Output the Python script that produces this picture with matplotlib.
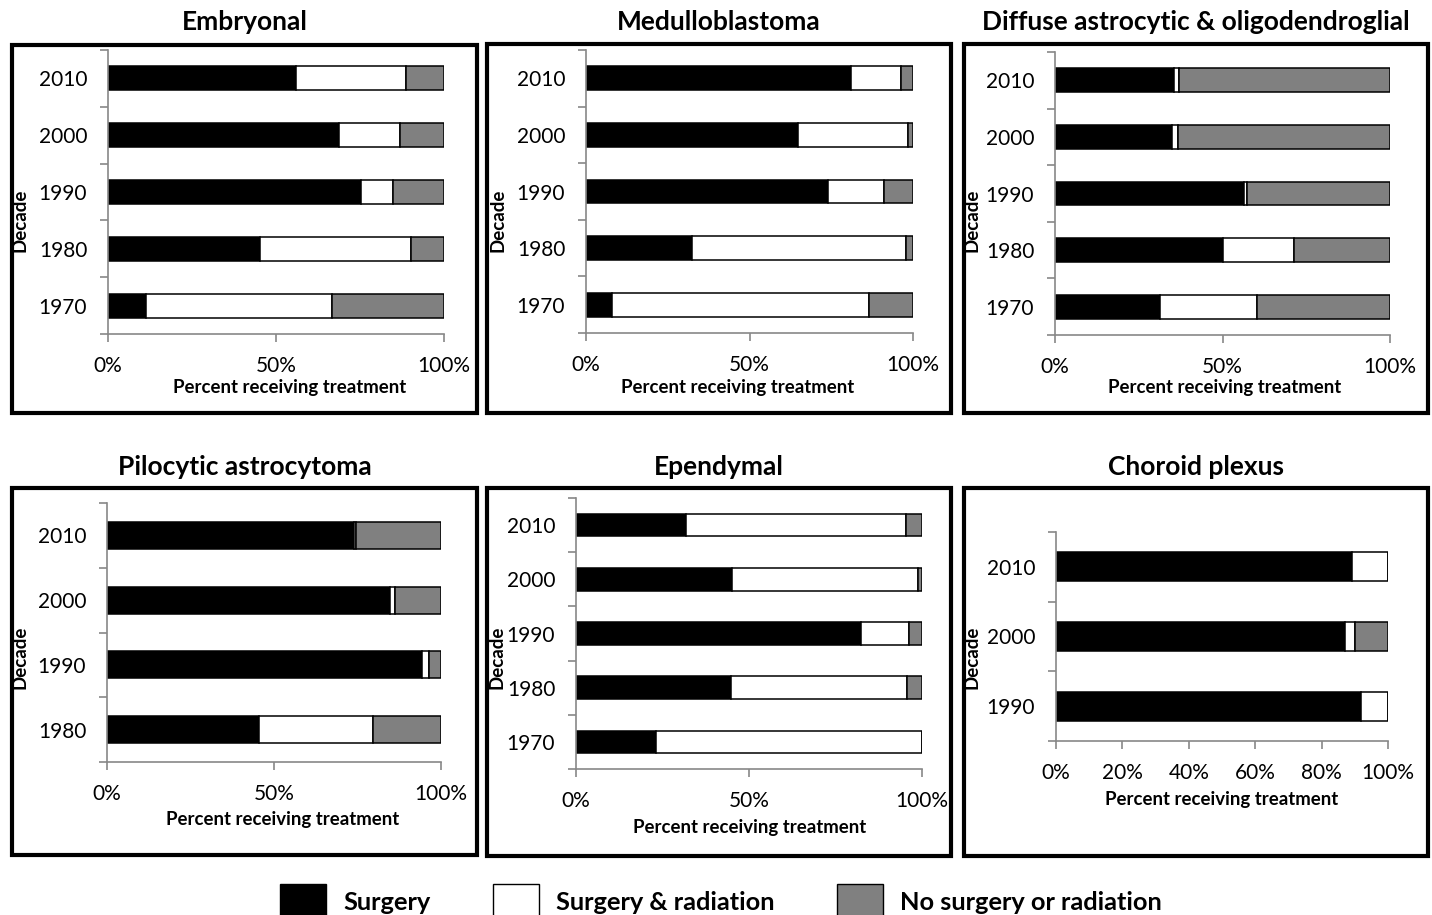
import matplotlib
matplotlib.use("Agg")
import matplotlib.pyplot as plt
from matplotlib.patches import Rectangle, Patch
import numpy as np

plt.rcParams['font.family'] = ['Lato', 'DejaVu Sans']

W, H = 1432, 915

SERIES = ['Surgery', 'Surgery & radiation', 'No surgery or radiation']
COLORS = ['#000000', '#ffffff', '#808080']

# values, percent, bottom row first
emb_decades = ['1970', '1980', '1990', '2000', '2010']
emb_surgery = [11.3, 45.2, 75.2, 68.8, 56.0]
emb_surg_rad = [55.5, 45.0, 9.6, 18.0, 32.6]
emb_none = [33.2, 9.8, 15.2, 13.2, 11.4]

med_decades = ['1970', '1980', '1990', '2000', '2010']
med_surgery = [7.9, 32.5, 73.9, 64.8, 80.9]
med_surg_rad = [78.5, 65.5, 17.1, 33.7, 15.5]
med_none = [13.6, 2.0, 9.0, 1.5, 3.6]

dif_decades = ['1970', '1980', '1990', '2000', '2010']
dif_surgery = [31.4, 50.1, 56.5, 34.8, 35.6]
dif_surg_rad = [28.9, 21.1, 0.8, 2.0, 1.4]
dif_none = [39.7, 28.8, 42.7, 63.2, 63.0]

pil_decades = ['1980', '1990', '2000', '2010']
pil_surgery = [45.6, 94.2, 84.8, 73.9]
pil_surg_rad = [34.0, 2.1, 1.5, 0.6]
pil_none = [20.4, 3.7, 13.7, 25.5]

epe_decades = ['1970', '1980', '1990', '2000', '2010']
epe_surgery = [23.2, 44.9, 82.4, 45.1, 31.8]
epe_surg_rad = [76.8, 50.8, 13.9, 53.6, 63.6]
epe_none = [0.0, 4.3, 3.7, 1.3, 4.6]

cho_decades = ['1990', '2000', '2010']
cho_surgery = [92.0, 87.0, 89.3]
cho_surg_rad = [8.0, 3.1, 10.7]
cho_none = [0.0, 9.9, 0.0]

panels = [
    ('Embryonal', emb_decades, [emb_surgery, emb_surg_rad, emb_none], 50),
    ('Medulloblastoma', med_decades, [med_surgery, med_surg_rad, med_none], 50),
    ('Diffuse astrocytic & oligodendroglial', dif_decades, [dif_surgery, dif_surg_rad, dif_none], 50),
    ('Pilocytic astrocytoma', pil_decades, [pil_surgery, pil_surg_rad, pil_none], 50),
    ('Ependymal', epe_decades, [epe_surgery, epe_surg_rad, epe_none], 50),
    ('Choroid plexus', cho_decades, [cho_surgery, cho_surg_rad, cho_none], 20),
]

# layout in pixels: axes (left, top, right, bottom), box (left, top, right, bottom)
axes_px = [(108, 50, 444, 334), (586, 50, 913, 333), (1055, 52, 1390, 335),
           (107, 503, 441, 762), (576, 498, 922, 769), (1056, 532, 1388, 741)]
box_px = [(12, 45, 477, 413), (487, 44, 951, 413), (964, 44, 1428, 413),
          (12, 488, 477, 855), (487, 488, 951, 856), (964, 488, 1428, 856)]
xlabel_px = [(290, 387), (738, 387), (1225, 387), (283, 820), (750, 828), (1222, 799)]
ylabel_px = [(20, 220), (498, 220), (972, 220), (20, 657), (497, 657), (972, 657)]


def frac(l, t, r, b):
    return [l / W, 1 - b / H, (r - l) / W, (b - t) / H]


fig = plt.figure(figsize=(W / 100, H / 100), dpi=100)

for i, (title, decades, vals, step) in enumerate(panels):
    l, t, r, b = axes_px[i]
    ax = fig.add_axes(frac(l, t, r, b))
    y = np.arange(len(decades))
    left = np.zeros(len(decades))
    for v, c in zip(vals, COLORS):
        v = np.array(v)
        ax.barh(y, v, left=left, height=0.42, color=c, edgecolor='black', linewidth=1.1)
        left += v

    ax.set_xlim(0, 100)
    ax.set_ylim(-0.5, len(decades) - 0.5)
    ax.set_xticks(np.arange(0, 101, step))
    ax.set_xticklabels([f'{x}%' for x in range(0, 101, step)])
    ax.set_yticks(y)
    ax.set_yticklabels(decades)
    ax.set_yticks(np.arange(len(decades) + 1) - 0.5, minor=True)
    ax.tick_params(axis='y', which='major', length=0, pad=15, labelsize=15)
    ax.tick_params(axis='y', which='minor', length=6, color='#888888', width=1.2)
    ax.tick_params(axis='x', length=6, color='#888888', width=1.2, pad=10, labelsize=15)
    for s in ['top', 'right']:
        ax.spines[s].set_visible(False)
    for s in ['left', 'bottom']:
        ax.spines[s].set_color('#888888')
        ax.spines[s].set_linewidth(1.2)

    ax.set_xlabel('Percent receiving treatment', fontsize=13.4, fontweight='bold')
    xl, yl = xlabel_px[i]
    ax.xaxis.set_label_coords((xl - l) / (r - l), 1 - (yl - t) / (b - t))
    ax.xaxis.label.set_va('center')
    ax.set_ylabel('Decade', fontsize=13.5, fontweight='bold')
    xl, yl = ylabel_px[i]
    ax.yaxis.set_label_coords((xl - l) / (r - l), 1 - (yl - t) / (b - t))
    ax.yaxis.label.set_va('center')

    bl, bt, br, bb = box_px[i]
    fig.patches.append(Rectangle((bl / W, 1 - bb / H), (br - bl) / W, (bb - bt) / H,
                                 transform=fig.transFigure, fill=False,
                                 edgecolor='black', linewidth=3))
    ty = 22 if i < 3 else 467
    fig.text((bl + br) / 2 / W, 1 - ty / H, title, ha='center', va='center',
             fontsize=19, fontweight='bold')

handles = [Patch(facecolor=c, edgecolor='black', linewidth=1) for c in COLORS]
fig.legend(handles, SERIES, loc='upper left', bbox_to_anchor=(267 / W, 1 - 871 / H),
           ncol=3, frameon=False, borderpad=0, handlelength=1.83, handleheight=1.83,
           handletextpad=0.66, columnspacing=2.45,
           prop={'weight': 'bold', 'size': 18.3})

fig.savefig('out.png', dpi=100)
